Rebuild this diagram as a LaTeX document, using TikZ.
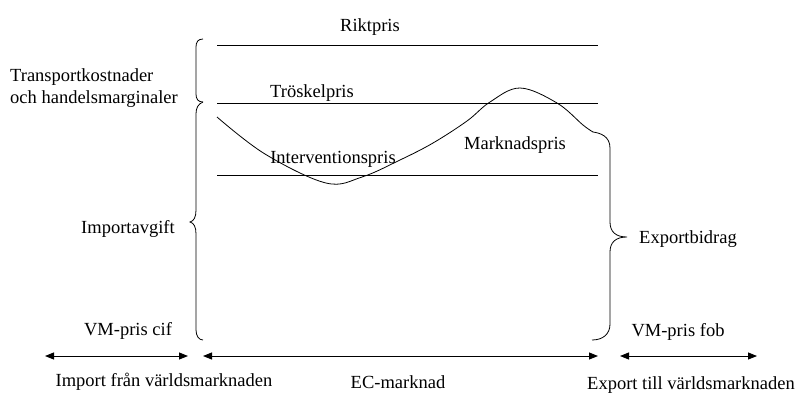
\documentclass[tikz,border=0pt]{standalone}
\usepackage{fontspec}
\setmainfont{Liberation Serif}
\usetikzlibrary{arrows.meta}
\begin{document}
\begin{tikzpicture}[x=1pt,y=-1pt,
  lbl/.style={inner sep=0pt,font=\fontsize{18.5}{22}\selectfont},
  pline/.style={line width=0.9pt},
  crv/.style={line width=0.8pt},
  dbl/.style={line width=0.9pt,{Triangle[length=9pt,width=7pt]}-{Triangle[length=9pt,width=7pt]}}]
\useasboundingbox (0,0) rectangle (800,394);
% price lines
\coordinate (r1) at (217,45);  \coordinate (r2) at (598,45);
\coordinate (t1) at (217,103); \coordinate (t2) at (598,103);
\coordinate (i1) at (217,175); \coordinate (i2) at (598,175);
\draw[pline] (r1) -- (r2);
\draw[pline] (t1) -- (t2);
\draw[pline] (i1) -- (i2);
% labels
\node[lbl] (riktpris) at (370,27) {Riktpris};
\node[lbl] (troskel) at (312,93) {Tröskelpris};
\node[lbl] (interv) at (333,159) {Interventionspris};
\node[lbl] (markn) at (515,145) {Marknadspris};
\node[lbl,anchor=west] (transp) at (10,77) {Transportkostnader};
\node[lbl,anchor=west] (handel) at (10,99) {och handelsmarginaler};
\node[lbl] (importavg) at (128,229) {Importavgift};
\node[lbl] (vmcif) at (128,331) {VM-pris cif};
\node[lbl] (importfr) at (164,382) {Import från världsmarknaden};
\node[lbl] (ecm) at (398,382) {EC-marknad};
\node[lbl] (exporttill) at (691,385) {Export till världsmarknaden};
\node[lbl] (vmfob) at (678,332) {VM-pris fob};
\node[lbl] (exportb) at (688,239) {Exportbidrag};
% market price curve
\draw[crv] plot[smooth,tension=0.6] coordinates {(217,117) (265,154) (326,183) (362,177) (400,160) (433,143) (467,121) (490,102) (520,88) (557,103) (583,125) (593,132)};
% right brace (Exportbidrag)
\draw[crv] (593,132) .. controls (600,133) and (610,136) .. (610,148) -- (610,222)
  .. controls (610,232) and (616,237) .. (627,237)
  .. controls (616,237) and (610,242) .. (610,252) -- (610,324)
  .. controls (610,334) and (603,340) .. (592,340);
% left upper brace
\draw[crv] (203,39) .. controls (198,39) and (196,42) .. (196,47) -- (196,94)
  .. controls (196,99) and (198,102) .. (203,102);
% left lower brace
\draw[crv] (203,102) .. controls (198,104) and (196,108) .. (196,114) -- (196,210)
  .. controls (196,217) and (194,221) .. (190,222)
  .. controls (194,223) and (196,227) .. (196,234) -- (196,330)
  .. controls (196,336) and (199,340) .. (203,340);
% bottom arrows
\coordinate (a1) at (45,356);  \coordinate (a2) at (188,356);
\coordinate (b1) at (203,356); \coordinate (b2) at (598,356);
\coordinate (c1) at (620,356); \coordinate (c2) at (757,356);
\draw[dbl] (a1) -- (a2);
\draw[dbl] (b1) -- (b2);
\draw[dbl] (c1) -- (c2);
\end{tikzpicture}
\end{document}
